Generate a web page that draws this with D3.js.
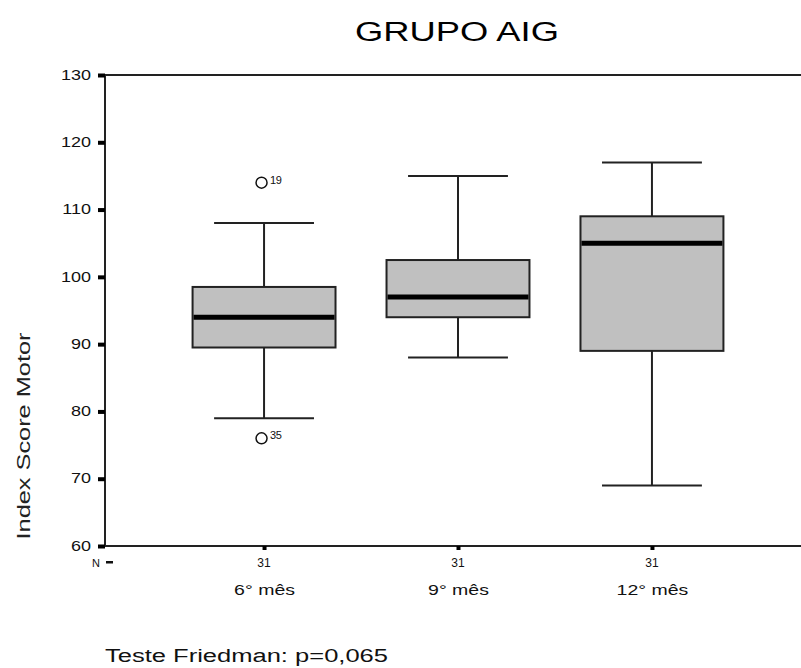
<!DOCTYPE html>
<html><head><meta charset="utf-8">
<script src="https://cdn.jsdelivr.net/npm/d3@7"></script>
<style>body{margin:0;background:#fff}svg{display:block;font-family:Arial,"Liberation Sans",sans-serif}</style>
</head><body><svg id="c" width="801" height="668"></svg>
<script>
const categories = ["6° mês", "9° mês", "12° mês"];
const whiskerLow  = [79, 88, 69];
const q1          = [89.5, 94, 89];
const median      = [94, 97, 105];
const q3          = [98.5, 102.5, 109];
const whiskerHigh = [108, 115, 117];
const nValues     = [31, 31, 31];
const outliers    = [{cat: "6° mês", value: 114, label: "19"}, {cat: "6° mês", value: 76, label: "35"}];
const yTicks      = [60, 70, 80, 90, 100, 110, 120, 130];

const svg = d3.select("#c");
const L = 105, R = 811, T = 75, B = 546;
const y = d3.scaleLinear().domain([60, 130]).range([B, T]);
const x = d3.scalePoint().domain(categories).range([L, R]).padding(0.82);
const step = x.step();
const boxW = step * 0.737, capW = step * 0.515;

function stretch(sel, f) {
  sel.each(function () {
    const w = this.getComputedTextLength();
    this.setAttribute("textLength", w * f);
    this.setAttribute("lengthAdjust", "spacingAndGlyphs");
  });
}

// frame
const ax = "#222";
svg.append("line").attr("x1", L).attr("x2", R).attr("y1", T).attr("y2", T).attr("stroke", ax).attr("stroke-width", 2);
svg.append("line").attr("x1", L).attr("x2", R).attr("y1", B).attr("y2", B).attr("stroke", ax).attr("stroke-width", 2);
svg.append("line").attr("x1", L).attr("x2", L).attr("y1", T).attr("y2", B).attr("stroke", ax).attr("stroke-width", 2);

// y axis
const yAxis = d3.axisLeft(y).tickValues(yTicks).tickSize(0).tickPadding(14);
const gy = svg.append("g").attr("transform", `translate(${L},0)`).call(yAxis);
gy.select(".domain").remove();
gy.selectAll("text").attr("font-size", 15).attr("fill", "#111").attr("font-family", "Arial, 'Liberation Sans', sans-serif").attr("dy", "0.28em");
stretch(gy.selectAll("text"), 1.2);
gy.selectAll(".tick").append("rect").attr("x", -7).attr("y", -2).attr("width", 7).attr("height", 4).attr("fill", "#000");

// x ticks
const xAxis = d3.axisBottom(x).tickSize(0).tickPadding(38);
const gx = svg.append("g").attr("transform", `translate(0,${B})`).call(xAxis);
gx.select(".domain").remove();
gx.selectAll("text").attr("font-size", 15).attr("fill", "#111").attr("font-family", "Arial, 'Liberation Sans', sans-serif");
stretch(gx.selectAll("text"), 1.3);
gx.selectAll(".tick").append("rect").attr("x", -2).attr("y", 0).attr("width", 4).attr("height", 4).attr("fill", "#000");

// N labels
svg.selectAll(".n").data(categories).join("text").attr("class", "n")
  .attr("x", d => x(d)).attr("y", 567).attr("text-anchor", "middle")
  .attr("font-size", 12).attr("fill", "#111").text((d, i) => nValues[i]);
svg.append("text").attr("x", 92).attr("y", 567).attr("font-size", 11).attr("fill", "#111").text("N");
svg.append("rect").attr("x", 106).attr("y", 561).attr("width", 7).attr("height", 2.5).attr("fill", "#111");

// boxes
const g = svg.append("g");
const bs = "#222";
categories.forEach((c, i) => {
  const cx = x(c);
  g.append("line").attr("x1", cx).attr("x2", cx).attr("y1", y(whiskerHigh[i])).attr("y2", y(q3[i])).attr("stroke", bs).attr("stroke-width", 2);
  g.append("line").attr("x1", cx).attr("x2", cx).attr("y1", y(q1[i])).attr("y2", y(whiskerLow[i])).attr("stroke", bs).attr("stroke-width", 2);
  g.append("line").attr("x1", cx - capW / 2).attr("x2", cx + capW / 2).attr("y1", y(whiskerHigh[i])).attr("y2", y(whiskerHigh[i])).attr("stroke", bs).attr("stroke-width", 2);
  g.append("line").attr("x1", cx - capW / 2).attr("x2", cx + capW / 2).attr("y1", y(whiskerLow[i])).attr("y2", y(whiskerLow[i])).attr("stroke", bs).attr("stroke-width", 2);
  g.append("rect").attr("x", cx - boxW / 2).attr("y", y(q3[i])).attr("width", boxW).attr("height", y(q1[i]) - y(q3[i]))
    .attr("fill", "#c0c0c0").attr("stroke", bs).attr("stroke-width", 2);
  g.append("line").attr("x1", cx - boxW / 2 + 1).attr("x2", cx + boxW / 2 - 1).attr("y1", y(median[i])).attr("y2", y(median[i])).attr("stroke", "#000").attr("stroke-width", 5);
});

// outliers
outliers.forEach(o => {
  const cx = x(o.cat), cy = y(o.value);
  svg.append("circle").attr("cx", cx - 2.5).attr("cy", cy).attr("r", 5.5).attr("fill", "none").attr("stroke", "#111").attr("stroke-width", 1.5);
  svg.append("text").attr("x", cx + 6).attr("y", cy + 1).attr("font-size", 11).attr("letter-spacing", -0.5).attr("fill", "#111").text(o.label);
});

// titles
svg.append("text").attr("x", 457).attr("y", 41).attr("text-anchor", "middle").attr("font-size", 27).attr("fill", "#000")
  .attr("textLength", 204).attr("lengthAdjust", "spacingAndGlyphs").text("GRUPO AIG");
svg.append("text").attr("transform", "translate(30,436) rotate(-90)").attr("text-anchor", "middle").attr("font-size", 18).attr("fill", "#222")
  .attr("textLength", 207).attr("lengthAdjust", "spacingAndGlyphs").text("Index Score Motor");
svg.append("text").attr("x", 105).attr("y", 662).attr("font-size", 18).attr("fill", "#111")
  .attr("textLength", 283).attr("lengthAdjust", "spacingAndGlyphs").text("Teste Friedman: p=0,065");
</script></body></html>
